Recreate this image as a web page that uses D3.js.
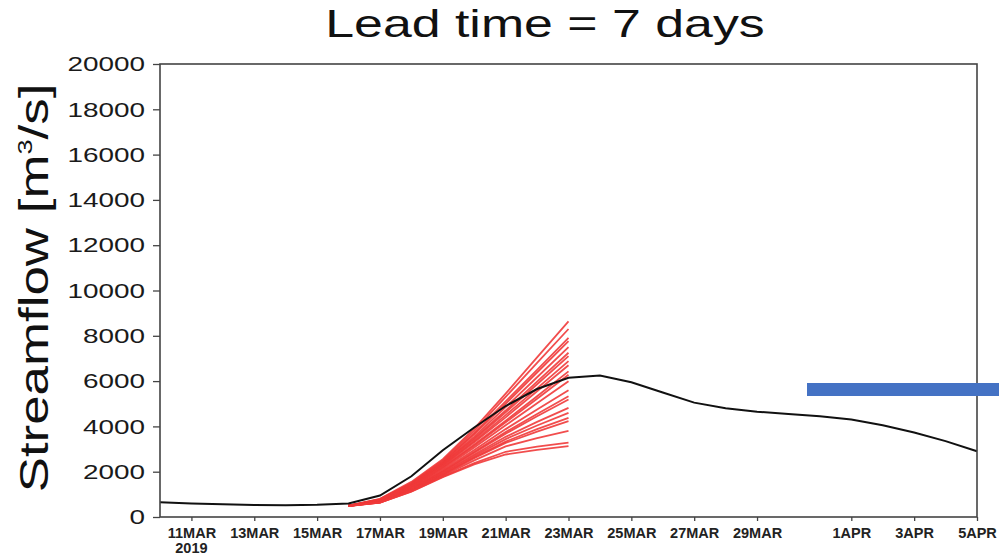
<!DOCTYPE html>
<html>
<head>
<meta charset="utf-8">
<script src="https://cdn.jsdelivr.net/npm/d3@7"></script>
<style>
    body { margin: 0; background: #fff; }
    svg { display: block; font-family: "Liberation Sans", Arial, sans-serif; }
    .frame { fill: none; stroke: #444; stroke-width: 1.6; }
    .obs { fill: none; stroke: #111; stroke-width: 2; }
    .member { fill: none; stroke: #f03a3a; stroke-width: 1.8; stroke-opacity: 0.9; }
    .xaxis text { font-weight: bold; font-size: 14.5px; fill: #222; }
    .yaxis text { font-size: 21px; fill: #1a1a1a; }
    .axis line { stroke: #444; stroke-width: 1.3; }
</style>
</head>
<body>
<svg id="chart" width="999" height="556"></svg>
<script>

// observed streamflow, one value a day from 10MAR to 5APR 2019
var obsDates = ["2019-03-10", "2019-03-11", "2019-03-12", "2019-03-13", "2019-03-14", "2019-03-15",
    "2019-03-16", "2019-03-17", "2019-03-18", "2019-03-19", "2019-03-20", "2019-03-21", "2019-03-22",
    "2019-03-23", "2019-03-24", "2019-03-25", "2019-03-26", "2019-03-27", "2019-03-28", "2019-03-29",
    "2019-03-30", "2019-03-31", "2019-04-01", "2019-04-02", "2019-04-03", "2019-04-04", "2019-04-05"];
var obsFlow = [650, 600, 560, 530, 520, 540, 600, 950, 1800, 2950, 3950, 4900, 5650,
    6150, 6250, 5950, 5500, 5050, 4800, 4650, 4550, 4450, 4300, 4050, 3730, 3350, 2900];

// ensemble forecast (lead time 7 days), issued 16MAR
var ensDates = ["2019-03-16", "2019-03-17", "2019-03-18", "2019-03-19", "2019-03-20",
    "2019-03-21", "2019-03-22", "2019-03-23"];
var ensMembers = [
    [500, 800, 1550, 2550, 3900, 5450, 7050, 8640],
    [500, 790, 1500, 2500, 3800, 5300, 6800, 8300],
    [490, 780, 1480, 2450, 3700, 5100, 6500, 7910],
    [490, 770, 1460, 2420, 3650, 5000, 6380, 7760],
    [500, 760, 1430, 2380, 3550, 4850, 6170, 7500],
    [480, 760, 1420, 2350, 3480, 4700, 5980, 7250],
    [490, 750, 1400, 2320, 3420, 4620, 5860, 7100],
    [500, 740, 1380, 2280, 3350, 4500, 5680, 6880],
    [480, 730, 1360, 2250, 3300, 4400, 5550, 6700],
    [490, 720, 1340, 2200, 3200, 4250, 5330, 6430],
    [500, 710, 1320, 2170, 3150, 4180, 5220, 6280],
    [480, 700, 1300, 2120, 3070, 4050, 5020, 5990],
    [490, 690, 1270, 2060, 2960, 3880, 4750, 5600],
    [500, 680, 1250, 2020, 2880, 3750, 4550, 5330],
    [480, 680, 1240, 2000, 2840, 3680, 4450, 5190],
    [490, 670, 1220, 1950, 2760, 3540, 4200, 4820],
    [500, 660, 1200, 1920, 2700, 3440, 4040, 4600],
    [480, 660, 1180, 1880, 2640, 3330, 3880, 4380],
    [490, 650, 1170, 1860, 2600, 3270, 3770, 4230],
    [500, 640, 1150, 1820, 2500, 3120, 3480, 3800],
    [480, 640, 1130, 1780, 2380, 2880, 3110, 3280],
    [490, 630, 1120, 1760, 2320, 2760, 2960, 3130]
];

var xTickDates = ["2019-03-11", "2019-03-13", "2019-03-15", "2019-03-17", "2019-03-19", "2019-03-21",
    "2019-03-23", "2019-03-25", "2019-03-27", "2019-03-29", "2019-04-01", "2019-04-03", "2019-04-05"];
var xTickLabels = ["11MAR", "13MAR", "15MAR", "17MAR", "19MAR", "21MAR", "23MAR",
    "25MAR", "27MAR", "29MAR", "1APR", "3APR", "5APR"];
var yTicks = [0, 2000, 4000, 6000, 8000, 10000, 12000, 14000, 16000, 18000, 20000];

var titleText = "Lead time = 7 days";

/** Class drawing the streamflow forecast plot. */
class StreamflowChart
{
    constructor()
    {
        this.svg = d3.select("#chart");
        this.parse = d3.timeParse("%Y-%m-%d");
        this.x = d3.scaleTime()
            .domain([this.parse("2019-03-10"), this.parse("2019-04-05")])
            .range([160, 977]);
        this.y = d3.scaleLinear().domain([0, 20000]).range([517, 64]);
        this.stretch = 1.33;   // the source picture is wider than its font
    }

    /**
     * Title, axis label and the frame with its ticks
     */
    drawAxes()
    {
        var svg = this.svg;
        var self = this;

        svg.append("text")
        .attr("transform", "translate(545,37) scale(" + this.stretch + ",1)")
        .attr("text-anchor", "middle")
        .style("font-size", "39px")
        .style("fill", "#111")
        .text(titleText);

        var ylab = svg.append("text")
        .attr("transform", "translate(48,288) rotate(-90) scale(1.29,1)")
        .attr("text-anchor", "middle")
        .style("font-size", "41px")
        .style("fill", "#111");
        ylab.append("tspan").text("Streamflow [m");
        ylab.append("tspan").attr("dy", -16).style("font-size", "21px").text("3");
        ylab.append("tspan").attr("dy", 16).text("/s]");

        var xAxis = d3.axisBottom(this.x)
            .tickValues(xTickDates.map(function(d) { return self.parse(d); }))
            .tickSize(4)
            .tickPadding(7)
            .tickFormat(function(d, i) { return xTickLabels[i]; });

        var gx = svg.append("g")
        .attr("class", "axis xaxis")
        .attr("transform", "translate(0,517)")
        .call(xAxis);
        gx.select(".domain").remove();

        // year under the first date
        gx.append("text")
        .attr("x", this.x(this.parse("2019-03-11")))
        .attr("y", 36)
        .attr("text-anchor", "middle")
        .text("2019");

        var yAxis = d3.axisLeft(this.y)
            .tickValues(yTicks)
            .tickSize(7)
            .tickPadding(10)
            .tickFormat(d3.format("d"));

        var gy = svg.append("g")
        .attr("class", "axis yaxis")
        .attr("transform", "translate(160,0)")
        .call(yAxis);
        gy.select(".domain").remove();
        gy.selectAll("text")
        .attr("x", -15 / this.stretch)
        .attr("transform", "scale(" + this.stretch + ",1)");

        svg.append("rect")
        .attr("class", "frame")
        .attr("x", 160)
        .attr("y", 64)
        .attr("width", 817)
        .attr("height", 453);
    }

    /**
     * Ensemble members in red, observed flow in black
     */
    drawLines()
    {
        var self = this;
        var line = d3.line()
            .x(function(d) { return self.x(d[0]); })
            .y(function(d) { return self.y(d[1]); });

        var eDates = ensDates.map(function(d) { return self.parse(d); });

        this.svg.append("g")
        .selectAll("path")
        .data(ensMembers)
        .enter()
        .append("path")
        .attr("class", "member")
        .attr("d", function(m)
        {
            return line(m.map(function(v, i) { return [eDates[i], v]; }));
        });

        this.svg.append("path")
        .attr("class", "obs")
        .attr("d", line(obsFlow.map(function(v, i) { return [self.parse(obsDates[i]), v]; })));
    }

    /**
     * Blue marker bar laid over the right side of the plot
     */
    drawMarker()
    {
        this.svg.append("rect")
        .attr("x", 807)
        .attr("y", 383)
        .attr("width", 192)
        .attr("height", 13)
        .attr("fill", "#4472c4");
    }
}

var chart = new StreamflowChart();
chart.drawLines();
chart.drawAxes();
chart.drawMarker();

</script>
</body>
</html>
